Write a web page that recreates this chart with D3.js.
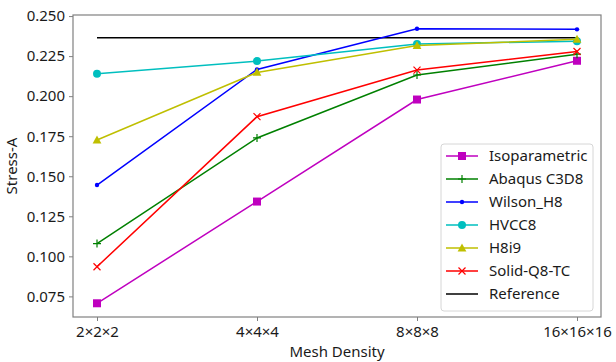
<!DOCTYPE html>
<html>
<head>
<meta charset="utf-8">
<script src="https://cdn.jsdelivr.net/npm/d3@7"></script>
<style>
  body { margin: 0; background: #fff; }
  text { font-family: "Noto Sans", "DejaVu Sans", sans-serif; fill: #1a1a1a; }
</style>
</head>
<body>
<svg id="chart" width="616" height="362"></svg>
<script>
// mesh densities on the x axis
const categories = ["2×2×2", "4×4×4", "8×8×8", "16×16×16"];

// stress values per element type
const isoparametric = [0.0707, 0.1342, 0.1979, 0.2221];
const abaqusC3D8 = [0.1080, 0.1739, 0.2132, 0.2262];
const wilsonH8 = [0.1445, 0.2167, 0.2421, 0.2417];
const hvcc8 = [0.2140, 0.2219, 0.2326, 0.2343];
const h8i9 = [0.1726, 0.2148, 0.2316, 0.2355];
const solidQ8TC = [0.0935, 0.1872, 0.2163, 0.2279];
const referenceValue = 0.2364;

const yTicks = [0.075, 0.100, 0.125, 0.150, 0.175, 0.200, 0.225, 0.250];

const series = [
    { name: "Isoparametric", values: isoparametric, color: "#bf00bf", marker: "square" },
    { name: "Abaqus C3D8", values: abaqusC3D8, color: "#008000", marker: "plus" },
    { name: "Wilson_H8", values: wilsonH8, color: "#0000ff", marker: "dot" },
    { name: "HVCC8", values: hvcc8, color: "#00bfbf", marker: "circle" },
    { name: "H8i9", values: h8i9, color: "#bfbf00", marker: "triangle" },
    { name: "Solid-Q8-TC", values: solidQ8TC, color: "#ff0000", marker: "x" }
];

const margin = { top: 15, right: 15, bottom: 45, left: 73 };
const width = 616 - margin.left - margin.right;
const height = 362 - margin.top - margin.bottom;

const svg = d3.select("#chart");
const g = svg.append("g").attr("transform", `translate(${margin.left},${margin.top})`);

// index scale with 5% margins on 0..3, like matplotlib
const xScale = d3.scaleLinear().domain([-0.15, categories.length - 1 + 0.15]).range([0, width]);

const allVals = series.flatMap(s => s.values).concat([referenceValue]);
const lo = d3.min(allVals), hi = d3.max(allVals);
const pad = (hi - lo) * 0.05;
const yScale = d3.scaleLinear().domain([lo - pad, hi + pad]).range([height, 0]);

/**
 * drawAxes: frame, ticks and labels
 */
function drawAxes() {
    const xAxis = d3.axisBottom(xScale)
        .tickValues(d3.range(categories.length))
        .tickFormat(i => categories[i])
        .tickSize(4).tickPadding(5);
    const yAxis = d3.axisLeft(yScale)
        .tickValues(yTicks)
        .tickFormat(d3.format(".3f"))
        .tickSize(4).tickPadding(4);

    const xg = g.append("g").attr("transform", `translate(0,${height})`).call(xAxis);
    const yg = g.append("g").call(yAxis);
    [xg, yg].forEach(a => {
        a.select(".domain").remove();
        a.selectAll("line").attr("stroke", "#808080").attr("stroke-width", 1);
        a.selectAll("text").attr("font-size", "15px").attr("fill", "#1a1a1a");
    });

    g.append("rect")
        .attr("width", width).attr("height", height)
        .attr("fill", "none").attr("stroke", "#808080").attr("stroke-width", 1.2);

    svg.append("text")
        .attr("x", margin.left + width / 2).attr("y", 357)
        .attr("text-anchor", "middle").attr("font-size", "15px")
        .text("Mesh Density");
    svg.append("text")
        .attr("transform", `translate(17,${margin.top + height / 2}) rotate(-90)`)
        .attr("text-anchor", "middle").attr("font-size", "15px")
        .text("Stress-A");
}

/**
 * drawMarker: one marker shape into a group
 */
function drawMarker(sel, type, color) {
    if (type === "square") {
        sel.append("rect").attr("x", -4).attr("y", -4).attr("width", 8).attr("height", 8).attr("fill", color);
    } else if (type === "circle") {
        sel.append("circle").attr("r", 4).attr("fill", color);
    } else if (type === "dot") {
        sel.append("circle").attr("r", 2.2).attr("fill", color);
    } else if (type === "triangle") {
        sel.append("path").attr("d", "M0,-4.6L4.4,3.4L-4.4,3.4Z").attr("fill", color);
    } else if (type === "plus") {
        sel.append("path").attr("d", "M-4,0H4M0,-4V4").attr("stroke", color).attr("stroke-width", 1.2);
    } else if (type === "x") {
        sel.append("path").attr("d", "M-3.5,-3.5L3.5,3.5M-3.5,3.5L3.5,-3.5").attr("stroke", color).attr("stroke-width", 1.2);
    }
}

function drawSeries() {
    const line = d3.line()
        .x((d, i) => xScale(i))
        .y(d => yScale(d));

    g.append("line")
        .attr("x1", xScale(0)).attr("x2", xScale(categories.length - 1))
        .attr("y1", yScale(referenceValue)).attr("y2", yScale(referenceValue))
        .attr("stroke", "#000").attr("stroke-width", 1.5);

    series.forEach(s => {
        g.append("path")
            .datum(s.values)
            .attr("d", line)
            .attr("fill", "none")
            .attr("stroke", s.color)
            .attr("stroke-width", 1.5);
        s.values.forEach((v, i) => {
            const m = g.append("g").attr("transform", `translate(${xScale(i)},${yScale(v)})`);
            drawMarker(m, s.marker, s.color);
        });
    });
}

function drawLegend() {
    const items = series.concat([{ name: "Reference", color: "#000", marker: null }]);
    const lg = svg.append("g").attr("transform", "translate(441,144)");
    lg.append("rect")
        .attr("width", 152).attr("height", 167)
        .attr("rx", 3)
        .attr("fill", "rgba(255,255,255,0.8)")
        .attr("stroke", "#d6d6d6");
    items.forEach((s, i) => {
        const y = 12 + i * 23;
        lg.append("line")
            .attr("x1", 5).attr("x2", 37).attr("y1", y).attr("y2", y)
            .attr("stroke", s.color).attr("stroke-width", 1.5);
        if (s.marker) {
            const m = lg.append("g").attr("transform", `translate(21,${y})`);
            drawMarker(m, s.marker, s.color);
        }
        lg.append("text")
            .attr("x", 48).attr("y", y)
            .attr("dy", "0.35em")
            .attr("font-size", "15px")
            .text(s.name);
    });
}

drawAxes();
drawSeries();
drawLegend();
</script>
</body>
</html>
